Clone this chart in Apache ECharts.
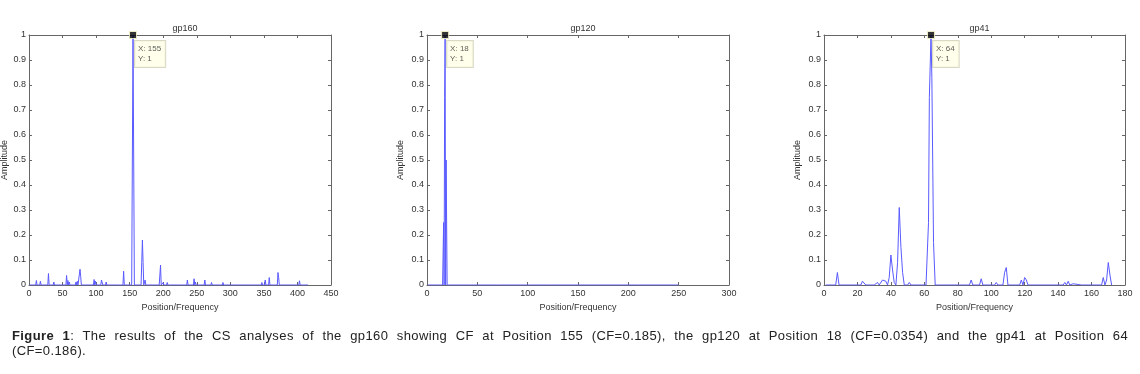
<!DOCTYPE html>
<html>
<head>
    <meta charset="utf-8">
    <script src="https://cdn.jsdelivr.net/npm/echarts@6/dist/echarts.min.js"></script>
    <style>
        body { margin: 0; background: #fff; }
        #main { position: absolute; left: 0; top: 0; width: 1140px; height: 374px; }
        #caption {
            position: absolute; left: 12px; top: 328px; width: 1116px;
            font-family: "Liberation Sans", Arial, sans-serif; font-size: 13px; letter-spacing: 0.4px;
            line-height: 15px; color: #222;
        }
        #caption .l1 { text-align: justify; text-align-last: justify; white-space: nowrap; }
    </style>
</head>

<body>
    <div id="main"></div>
    <div id="caption"><div class="l1"><b>Figure 1</b>: The results of the CS analyses of the gp160 showing CF at Position 155 (CF=0.185), the gp120 at Position 18 (CF=0.0354) and the gp41 at Position 64</div><div>(CF=0.186).</div></div>

    <script type="text/javascript">
        var myChart = echarts.init(document.getElementById('main'));

        var titles = ['gp160', 'gp120', 'gp41']
        var xMax = [450, 300, 180]
        var xStep = [50, 50, 20]
        var dataEnd = [416, 250, 172]

        // spike positions / heights
        var gp160Pos = [11, 17, 29, 37, 50, 56, 58, 60, 70, 72, 76, 77, 97, 99, 108, 109, 115, 123, 136, 141,
            154, 155, 156, 168, 169, 170, 173, 195, 196, 200, 206, 212, 227, 236, 246, 248, 262, 272, 289,
            332, 347, 352, 358, 371, 372, 399, 403, 410]
        var gp160Amp = [0.018, 0.015, 0.046, 0.012, 0.008, 0.038, 0.018, 0.012, 0.012, 0.015, 0.063, 0.035,
            0.022, 0.015, 0.02, 0.015, 0.012, 0.008, 0.008, 0.055, 0.5, 1, 0.5, 0.09, 0.18, 0.09, 0.02, 0.04,
            0.08, 0.01, 0.01, 0.006, 0.008, 0.02, 0.025, 0.012, 0.02, 0.01, 0.01, 0.006, 0.01, 0.02, 0.03,
            0.05, 0.03, 0.008, 0.017, 0.004]

        var gp120Pos = [16.5, 17, 17.5, 18, 18.5, 19, 45, 70, 100, 122, 150, 210, 246]
        var gp120Amp = [0.25, 0, 0.75, 1, 0, 0.5, 0.003, 0.002, 0.003, 0.003, 0.002, 0.002, 0.002]

        var gp41Pos = [8, 23, 24, 29, 32, 35, 36, 37, 39, 40, 41, 42, 44, 45, 46, 47, 49, 51, 62, 62.5, 63, 64,
            64.5, 65, 65.5, 70, 82, 88, 94, 103, 108, 109, 118, 120, 121, 144, 146, 149, 155, 167, 169, 170, 171]
        var gp41Amp = [0.05, 0.015, 0.02, 0.005, 0.01, 0.02, 0.02, 0.015, 0.03, 0.12, 0.06, 0.01, 0.09, 0.31,
            0.15, 0.05, 0.005, 0.01, 0.005, 0.25, 0.75, 1, 0.83, 0.5, 0.17, 0.005, 0.005, 0.02, 0.025, 0.01,
            0.05, 0.07, 0.02, 0.03, 0.02, 0.01, 0.015, 0.005, 0.005, 0.03, 0.02, 0.09, 0.04]

        var tipX = [155, 18, 64]
        var tipY = [1, 1, 1]

        var grids = [
            { left: 29, top: 35, width: 302, height: 250 },
            { left: 427, top: 35, width: 302, height: 250 },
            { left: 824, top: 35, width: 301, height: 250 }
        ]

        // baseline at zero between the spikes
        function spikes(pos, amp, end) {
            var out = [[1, 0]]
            for (var i = 0; i < pos.length; i++) {
                var prev = out[out.length - 1][0]
                if (pos[i] - prev > 1) out.push([pos[i] - 1, 0])
                out.push([pos[i], amp[i]])
                var next = i + 1 < pos.length ? pos[i + 1] : end
                if (next - pos[i] > 1) out.push([pos[i] + 1, 0])
            }
            out.push([end, 0])
            return out
        }

        var lines = [
            spikes(gp160Pos, gp160Amp, dataEnd[0]),
            spikes(gp120Pos, gp120Amp, dataEnd[1]),
            spikes(gp41Pos, gp41Amp, dataEnd[2])
        ]

        var axisColor = '#666'
        var textColor = '#333'
        var xAxes = [], yAxes = [], series = [], titleList = []

        grids.forEach(function (g, i) {
            g.outerBoundsMode = 'none'
            g.containLabel = false
            titleList.push({
                text: titles[i], left: g.left + g.width / 2, top: 19, textAlign: 'center',
                textStyle: { fontSize: 9, fontWeight: 'normal', color: textColor,
                    fontFamily: 'Liberation Sans' }
            })
            var xBase = {
                type: 'value', gridIndex: i, min: 0, max: xMax[i], interval: xStep[i],
                splitLine: { show: false },
                axisLine: { show: true, onZero: false, lineStyle: { color: axisColor } },
                axisTick: { show: true, inside: true, length: 3, lineStyle: { color: axisColor } }
            }
            var yBase = {
                type: 'value', gridIndex: i, min: 0, max: 1, interval: 0.1,
                splitLine: { show: false },
                axisLine: { show: true, onZero: false, lineStyle: { color: axisColor } },
                axisTick: { show: true, inside: true, length: 3, lineStyle: { color: axisColor } }
            }
            xAxes.push(Object.assign({}, xBase, {
                position: 'bottom',
                name: 'Position/Frequency', nameLocation: 'middle', nameGap: 15,
                nameTextStyle: { fontSize: 9, color: textColor, fontFamily: 'Liberation Sans' },
                axisLabel: { fontSize: 9, color: textColor, margin: 4, fontFamily: 'Liberation Sans' }
            }))
            xAxes.push(Object.assign({}, xBase, { position: 'top', axisLabel: { show: false } }))
            yAxes.push(Object.assign({}, yBase, {
                position: 'left',
                name: 'Amplitude', nameLocation: 'middle', nameGap: i == 0 ? 20 : 22, nameRotate: 90,
                nameTextStyle: { fontSize: 9, color: textColor, fontFamily: 'Liberation Sans' },
                axisLabel: { fontSize: 9, color: textColor, margin: 3, fontFamily: 'Liberation Sans' }
            }))
            yAxes.push(Object.assign({}, yBase, { position: 'right', axisLabel: { show: false } }))

            series.push({
                type: 'line', xAxisIndex: i * 2, yAxisIndex: i * 2,
                data: lines[i], showSymbol: false, silent: true,
                lineStyle: { color: '#5a5aff', width: 1 }
            })
            series.push({
                type: 'scatter', xAxisIndex: i * 2, yAxisIndex: i * 2, clip: false, z: 5,
                data: [[tipX[i], tipY[i]]],
                symbol: 'rect', symbolSize: 7,
                itemStyle: { color: '#000', borderColor: '#ffffd0', borderWidth: 1 },
                label: {
                    show: true, position: [6, 10], align: 'left', verticalAlign: 'top',
                    formatter: 'X: ' + tipX[i] + '\nY: ' + tipY[i],
                    fontSize: 8, lineHeight: 10, color: textColor, fontFamily: 'Liberation Sans',
                    backgroundColor: '#ffffe6', borderColor: '#cfcfb8', borderWidth: 1,
                    padding: [3, 4, 3, 3]
                }
            })
        })

        myChart.setOption({
            animation: false,
            backgroundColor: '#fff',
            title: titleList,
            grid: grids,
            xAxis: xAxes,
            yAxis: yAxes,
            series: series
        })
    </script>
</body>

</html>
